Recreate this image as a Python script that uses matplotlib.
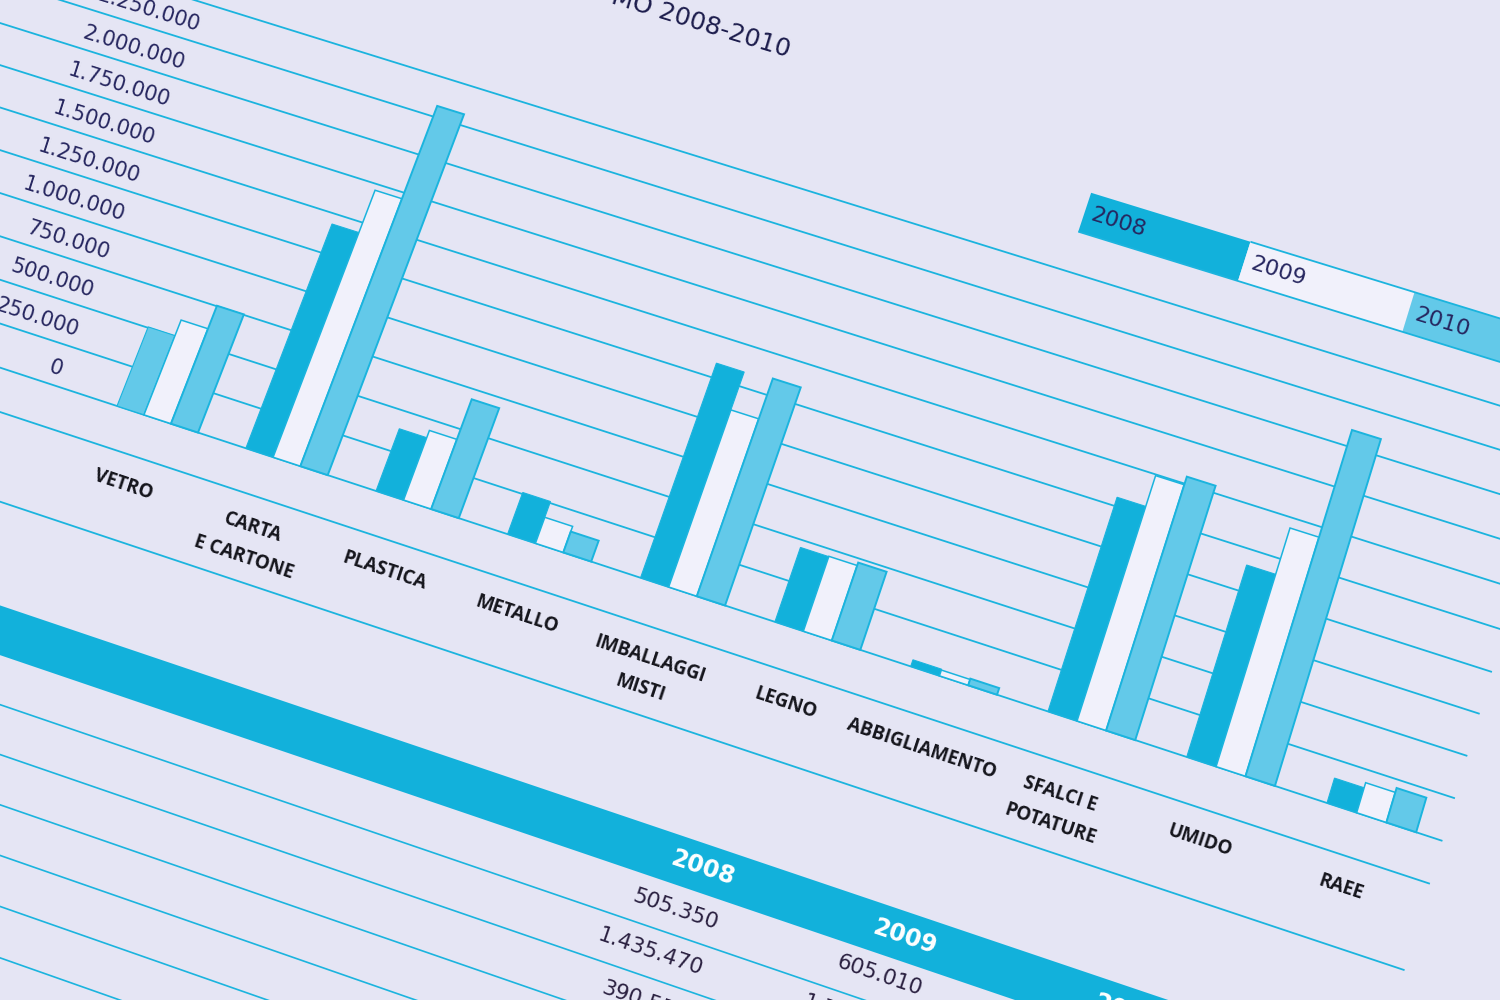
import numpy as np
import matplotlib
matplotlib.use("Agg")
import matplotlib.pyplot as plt
import matplotlib.transforms as mtransforms
from matplotlib.patches import Rectangle


# dati (kg); i valori esatti vengono dalla tabella sotto
categories = ["VETRO", "CARTA\nE CARTONE", "PLASTICA", "METALLO", "IMBALLAGGI\nMISTI",
              "LEGNO", "ABBIGLIAMENTO", "SFALCI E\nPOTATURE", "UMIDO", "RAEE"]
years = ["2008", "2009", "2010"]
val_2008 = [505350, 1435470, 390550, 259000, 1339000, 456000, 40000, 1303000, 1156000, 147000]
val_2009 = [605010, 1711000, 436000, 161000, 1100000, 458000, 35000, 1493000, 1439000, 177000]
val_2010 = [753000, 2320000, 689000, 129000, 1354000, 476000, 40000, 1543000, 2100000, 203000]
tick_vals = list(range(0, 2250001, 250000))
grid_vals = [-750000, -250000] + list(range(0, 2500001, 250000))
table_rows = 3   # only the first rows of the table are in the photo
title = "MO 2008-2010"

BG = "#e5e5f4"
CYAN = "#12b1db"
LIGHT = "#63c9e9"
WHITE = "#f1f1fb"
LINE = "#1bb4de"
NAVY = "#26265f"
INK = "#15151c"

# the page is photographed at an angle: map chart coords (category, millions)
# onto the photo with a homography fitted on a few reference points
CAL_SRC = [(-0.315, 0.0), (8.685, 0.0), (0.685, 1.43547), (8.105, 2.10)]
CAL_DST = [(117, 406), (1327, 803), (332, 224), (1352, 430)]


def homography(src, dst):
    A, b = [], []
    for (x, y), (u, v) in zip(src, dst):
        A.append([x, y, 1, 0, 0, 0, -x * u, -y * u]); b.append(u)
        A.append([0, 0, 0, x, y, 1, -x * v, -y * v]); b.append(v)
    h = np.linalg.solve(np.array(A, float), np.array(b, float))
    return np.append(h, 1).reshape(3, 3)


class Homography(mtransforms.Transform):
    input_dims = 2
    output_dims = 2
    is_separable = False
    has_inverse = True

    def __init__(self, H):
        super().__init__()
        self.H = H

    def transform_non_affine(self, pts):
        pts = np.asarray(pts, float).reshape(-1, 2)
        h = np.c_[pts, np.ones(len(pts))] @ self.H.T
        return h[:, :2] / h[:, 2:3]

    def inverted(self):
        return Homography(np.linalg.inv(self.H))


fig = plt.figure(figsize=(15, 10), dpi=100, facecolor=BG)
ax = fig.add_axes([0, 0, 1, 1])
ax.set_facecolor(BG)
ax.set_xlim(0, 1500)
ax.set_ylim(1000, 0)
ax.set_autoscale_on(False)
ax.axis("off")

T = mtransforms.Affine2D().scale(1, 1e-6) + Homography(homography(CAL_SRC, CAL_DST)) + ax.transData


def put(x, y, s, **kw):
    p0 = T.transform((x, y))
    p1 = T.transform((x + 0.5, y))
    ang = np.degrees(np.arctan2(p1[1] - p0[1], p1[0] - p0[0]))
    ax.text(x, y, s, transform=T, rotation=ang, rotation_mode="anchor", **kw)


def fmt(v):
    return f"{v:,}".replace(",", ".")


# grid
ax.hlines(grid_vals, -3, 9.5, colors=LINE, linewidth=1.3, transform=T, zorder=1)
for v in tick_vals:
    put(-0.79, v + 65000, fmt(v), ha="right", va="baseline", fontsize=15,
        color=NAVY, family="DejaVu Sans")

# bars
x = np.arange(len(categories))
w = 0.21
col_2008 = [LIGHT] + [CYAN] * (len(categories) - 1)
ax.bar(x - w, val_2008, w, color=col_2008, edgecolor=LINE, linewidth=0.8, transform=T, zorder=3)
ax.bar(x, val_2009, w, color=WHITE, edgecolor=LINE, linewidth=1.1, transform=T, zorder=3)
ax.bar(x + w, val_2010, w, color=LIGHT, edgecolor=LINE, linewidth=1.4, transform=T, zorder=3)

for i, name in enumerate(categories):
    put(i - 0.06, -370000, name, ha="center", va="top", multialignment="center",
        linespacing=1.75, fontsize=13.5, fontweight="bold", color=INK, family="Open Sans")

# legend strip
leg_x = [5.84, 7.03, 8.24, 9.6]
leg_fill = [CYAN, WHITE, LIGHT]
for k, yr in enumerate(years):
    ax.add_patch(Rectangle((leg_x[k], 2750000), leg_x[k + 1] - leg_x[k], 250000,
                           transform=T, facecolor=leg_fill[k], edgecolor="none", zorder=2))
    put(leg_x[k] + 0.05, 2875000, yr, ha="left", va="center", fontsize=16,
        color=NAVY, family="DejaVu Sans", zorder=4)
ax.hlines([2750000], leg_x[0], leg_x[-1], colors=LINE, linewidth=1.3, transform=T, zorder=3)
ax.hlines([3000000], leg_x[1], leg_x[-1], colors=LINE, linewidth=1.3, transform=T, zorder=3)

put(3.43, 3250000, title, ha="right", va="baseline", fontsize=18, color="#1c1c4c",
    family="DejaVu Sans")

# table under the chart
band_top, band_bot, row_h = -1320000, -1590000, 267000
ax.add_patch(Rectangle((-3, band_bot), 12.6, band_top - band_bot, transform=T,
                       facecolor=CYAN, edgecolor="none", zorder=2))
ax.hlines([band_bot - row_h * k for k in range(1, 12)], -3, 9.5, colors=LINE,
          linewidth=1.2, transform=T, zorder=1)
col_right = [4.99, 6.45, 8.02]
for k, yr in enumerate(years):
    put(col_right[k], (band_top + band_bot) / 2, yr, ha="right", va="center", fontsize=17,
        fontweight="bold", color="white", family="DejaVu Sans", zorder=4)
for k, series in enumerate([val_2008, val_2009, val_2010]):
    for r, v in enumerate(series[:table_rows]):
        put(col_right[k], band_bot - row_h * (r + 0.5) + 20000 * k, fmt(v), ha="right",
            va="center", fontsize=15.5, color="#2a2040", family="DejaVu Sans", zorder=4)

fig.savefig("out.png", dpi=100, facecolor=BG)
